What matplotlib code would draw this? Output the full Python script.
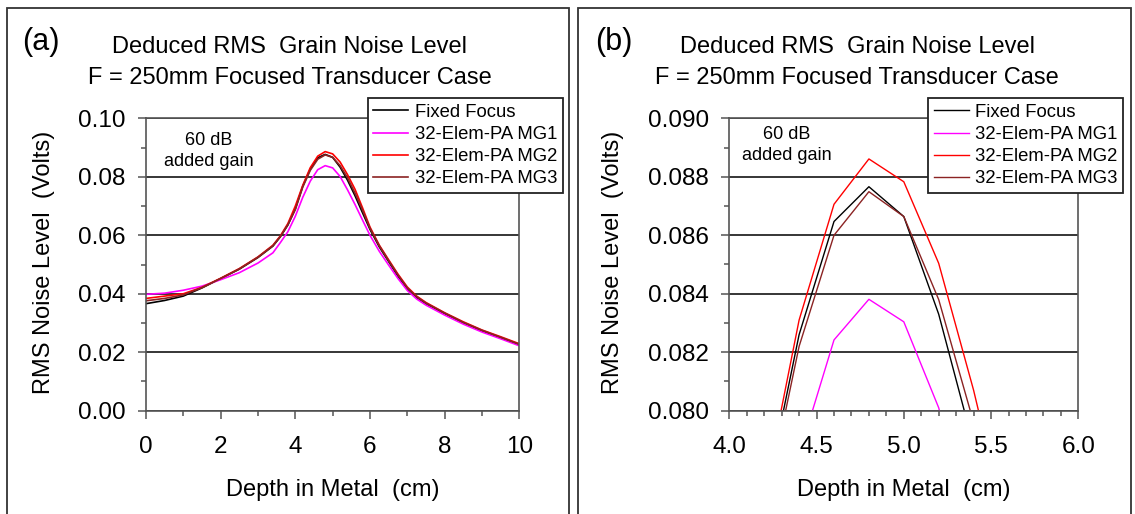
import matplotlib
matplotlib.use("Agg")
import matplotlib.pyplot as plt
from matplotlib.ticker import MultipleLocator, FormatStrFormatter
from matplotlib.patches import Rectangle

plt.rcParams['font.family'] = ['Liberation Sans', 'DejaVu Sans']

# depth in metal (cm) and deduced RMS noise (Volts)
depth = [0.0, 0.5, 1.0, 1.5, 2.0, 2.5, 3.0, 3.4, 3.6, 3.8, 4.0, 4.2, 4.4, 4.6, 4.8,
         5.0, 5.2, 5.4, 5.6, 5.8, 6.0, 6.25, 6.5, 6.75, 7.0, 7.25, 7.5, 8.0, 8.5, 9.0, 9.5, 10.0]

fixed_focus = [0.0366, 0.0377, 0.0392, 0.0420, 0.0452, 0.0484, 0.0524, 0.0563, 0.0595, 0.0635,
               0.0690, 0.0768, 0.0826, 0.08647, 0.08766, 0.08664, 0.0833, 0.0788, 0.0735, 0.0677,
               0.0620, 0.0560, 0.0510, 0.0460, 0.0417, 0.0387, 0.0366, 0.0332, 0.0301, 0.0273,
               0.0250, 0.0226]

mg1 = [0.0398, 0.0402, 0.0412, 0.0426, 0.0448, 0.0472, 0.0505, 0.0540, 0.0575, 0.0612,
       0.0665, 0.0730, 0.0785, 0.08242, 0.08381, 0.08304, 0.0801, 0.0755, 0.0705, 0.0652,
       0.0600, 0.0545, 0.0498, 0.0452, 0.0411, 0.0382, 0.0361, 0.0327, 0.0296, 0.0269,
       0.0246, 0.0222]

mg2 = [0.0384, 0.0392, 0.0400, 0.0422, 0.0453, 0.0486, 0.0526, 0.0566, 0.0598, 0.0640,
       0.0700, 0.0771, 0.0831, 0.08706, 0.08861, 0.08783, 0.08504, 0.0807, 0.0757, 0.0694,
       0.0628, 0.0566, 0.0516, 0.0467, 0.0423, 0.0392, 0.0370, 0.0335, 0.0304, 0.0276,
       0.0253, 0.0229]

mg3 = [0.0376, 0.0384, 0.0396, 0.0421, 0.0452, 0.0485, 0.0525, 0.0564, 0.0596, 0.0636,
       0.0688, 0.0765, 0.0822, 0.0860, 0.08749, 0.08664, 0.0838, 0.0796, 0.0744, 0.0686,
       0.0624, 0.0564, 0.0513, 0.0464, 0.0420, 0.0390, 0.0368, 0.0334, 0.0302, 0.0275,
       0.0251, 0.0227]

series = [
    ("Fixed Focus", fixed_focus, "black"),
    ("32-Elem-PA MG1", mg1, "#ff00ff"),
    ("32-Elem-PA MG2", mg2, "#ff0000"),
    ("32-Elem-PA MG3", mg3, "#8b2323"),
]

W, H = 1135, 514
fig = plt.figure(figsize=(W / 100, H / 100), dpi=100)

# panel frames
for x0, x1 in [(7, 569), (578, 1131)]:
    fig.patches.append(Rectangle((x0 / W, -0.05), (x1 - x0) / W, 1.05 - 8 / H,
                                 transform=fig.transFigure, fill=False,
                                 edgecolor="#333333", linewidth=1.3))

ax_a = fig.add_axes([146 / W, 1 - 410.7 / H, 373.3 / W, 292.4 / H])
ax_b = fig.add_axes([729.3 / W, 1 - 410.7 / H, 349 / W, 292.4 / H])

panels = [
    (ax_a, "(a)", 41, 290, 367.7, (0, 10), 2, 1, (0, 0.10), 0.02, 0.01, "%.2f",
     (1.67, 0.0889), 1.2),
    (ax_b, "(b)", 614, 857, 928, (4, 6), 0.5, 0.1, (0.080, 0.090), 0.002, 0.001, "%.3f",
     (4.33, 0.08908), 1.0),
]

for ax, tag, tag_x, title_x, leg_x, xlim, xmaj, xmin, ylim, ymaj, ymin, yfmt, note, lw in panels:
    for label, vals, col in series:
        ax.plot(depth, vals, color=col, lw=lw, label=label)
    ax.set_xlim(*xlim)
    ax.set_ylim(*ylim)
    ax.xaxis.set_major_locator(MultipleLocator(xmaj))
    ax.xaxis.set_minor_locator(MultipleLocator(xmin))
    ax.yaxis.set_major_locator(MultipleLocator(ymaj))
    ax.yaxis.set_minor_locator(MultipleLocator(ymin))
    ax.yaxis.set_major_formatter(FormatStrFormatter(yfmt))
    if xmaj < 1:
        ax.xaxis.set_major_formatter(FormatStrFormatter("%.1f"))
    ax.grid(axis="y", which="major", color="black", lw=1.1)
    ax.set_axisbelow(True)
    for sp in ax.spines.values():
        sp.set_color("#555555")
        sp.set_linewidth(1.2)
    ax.tick_params(which="both", direction="out", colors="#555555", labelcolor="black",
                   top=False, right=False)
    ax.tick_params(which="major", length=5.5, width=1.1, labelsize=17.5)
    ax.tick_params(which="minor", length=3.5, width=1.1)
    ax.tick_params(axis="y", pad=9)
    ax.tick_params(axis="x", pad=13)
    ax.text(note[0], note[1], "60 dB\nadded gain", ha="center", va="center",
            fontsize=13, linespacing=1.3)

    fig.text(tag_x / W, 1 - 42 / H, tag, fontsize=22, ha="center", va="center")
    fig.text(title_x / W, 1 - 47 / H, "Deduced RMS  Grain Noise Level",
             fontsize=17, ha="center", va="center")
    fig.text(title_x / W, 1 - 78 / H, "F = 250mm Focused Transducer Case",
             fontsize=17, ha="center", va="center")

    pos = ax.get_position()
    fig.text((pos.x0 + pos.x1) / 2, 1 - 496 / H, "Depth in Metal  (cm)",
             fontsize=17, ha="center", va="baseline")

    leg = ax.legend(loc="upper left", bbox_to_anchor=(leg_x / W, 1 - 98.3 / H),
                    bbox_transform=fig.transFigure, fontsize=13.3, frameon=True,
                    fancybox=False, framealpha=1, edgecolor="#222222",
                    borderpad=0.3, handlelength=1.9, handletextpad=0.35,
                    labelspacing=0.28, borderaxespad=0)
    leg.get_frame().set_linewidth(1.3)
    leg.set_zorder(10)

fig.text(43.6 / W, 1 - 262.5 / H, "RMS Noise Level  (Volts)", rotation=90,
         fontsize=17, ha="center", va="center")
fig.text(613 / W, 1 - 262.5 / H, "RMS Noise Level  (Volts)", rotation=90,
         fontsize=17, ha="center", va="center")

fig.savefig("out.png", dpi=100)
